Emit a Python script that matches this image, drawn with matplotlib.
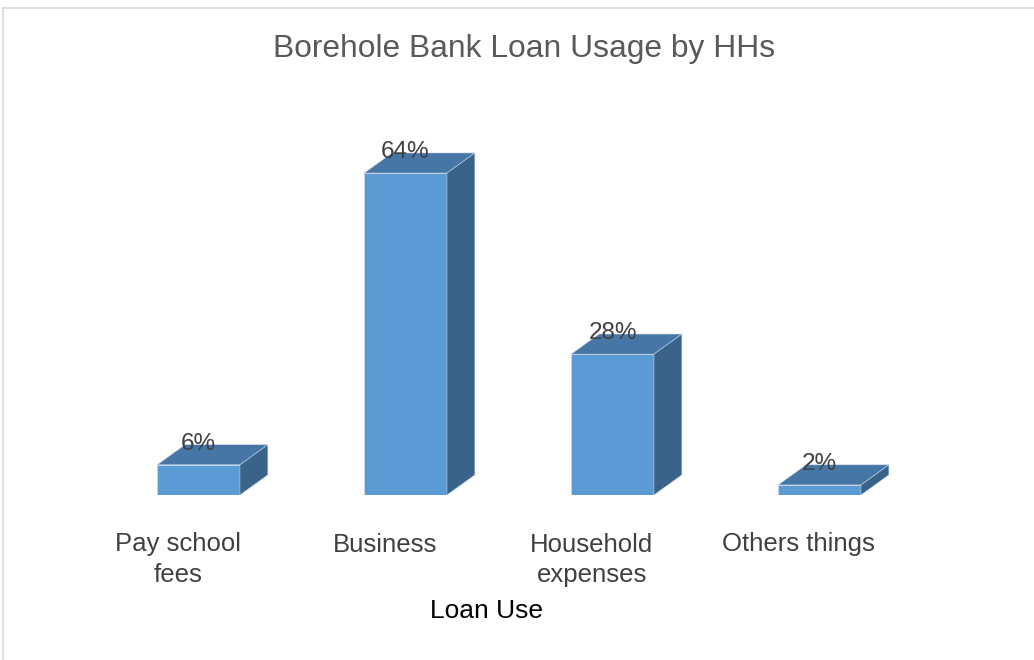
import numpy as np
import matplotlib
matplotlib.use("Agg")
import matplotlib.pyplot as plt
from matplotlib.patches import Polygon, Rectangle

# Data
categories = ["Pay school\nfees", "Business", "Household\nexpenses", "Others things"]
values = [6, 64, 28, 2]
labels = ["6%", "64%", "28%", "2%"]

plt.rcParams['font.family'] = ['Liberation Sans', 'DejaVu Sans']

front = "#5B9BD5"
top_c = "#4676A6"
side_c = "#3A6389"
depth_x = 0.135   # 3d depth in x units
depth_y = 4.0     # 3d depth in y units

fig = plt.figure(figsize=(10.34, 6.6), dpi=100)
ax = fig.add_axes([0.0919, 0.25, 0.8008, 0.5335])

x = np.arange(len(values))
bars = ax.bar(x, values, width=0.4, color=front, edgecolor="#C8D6E6", linewidth=0.6, zorder=2)

for b in bars:
    x0 = b.get_x()
    x1 = x0 + b.get_width()
    h = b.get_height()
    top = Polygon([(x0, h), (x1, h), (x1 + depth_x, h + depth_y), (x0 + depth_x, h + depth_y)],
                  closed=True, facecolor=top_c, edgecolor="#C8D6E6", linewidth=0.4, zorder=2, clip_on=False)
    side = Polygon([(x1, 0), (x1 + depth_x, depth_y), (x1 + depth_x, h + depth_y), (x1, h)],
                   closed=True, facecolor=side_c, edgecolor="#C8D6E6", linewidth=0.4, zorder=2, clip_on=False)
    ax.add_patch(top)
    ax.add_patch(side)

for xi, v, lab in zip(x, values, labels):
    ax.text(xi, v + 4.2, lab, ha="center", va="center", fontsize=17.5, color="#404040", zorder=3)

ax.set_xlim(-0.5, 3.5)
ax.set_ylim(0, 70)
ax.set_xticks(x - 0.1)
ax.set_xticklabels(categories, fontsize=18.5, color="#404040", linespacing=1.32)
ax.tick_params(axis="x", length=0, pad=27)
ax.set_yticks([])
for s in ax.spines.values():
    s.set_visible(False)

fig.text(487 / 1034, 1 - 611 / 660, "Loan Use", ha="center", va="center", fontsize=19, color="#000000")
fig.text(524 / 1034, 1 - 49 / 660, "Borehole Bank Loan Usage by HHs", ha="center", va="center",
         fontsize=22.9, color="#595959")

fig.patches.append(Rectangle((3 / 1034, -0.1), 1.2, 1 - 8 / 660 + 0.1, transform=fig.transFigure,
                             fill=False, edgecolor="#D9D9D9", linewidth=1.2))

fig.savefig("out.png", dpi=100)
